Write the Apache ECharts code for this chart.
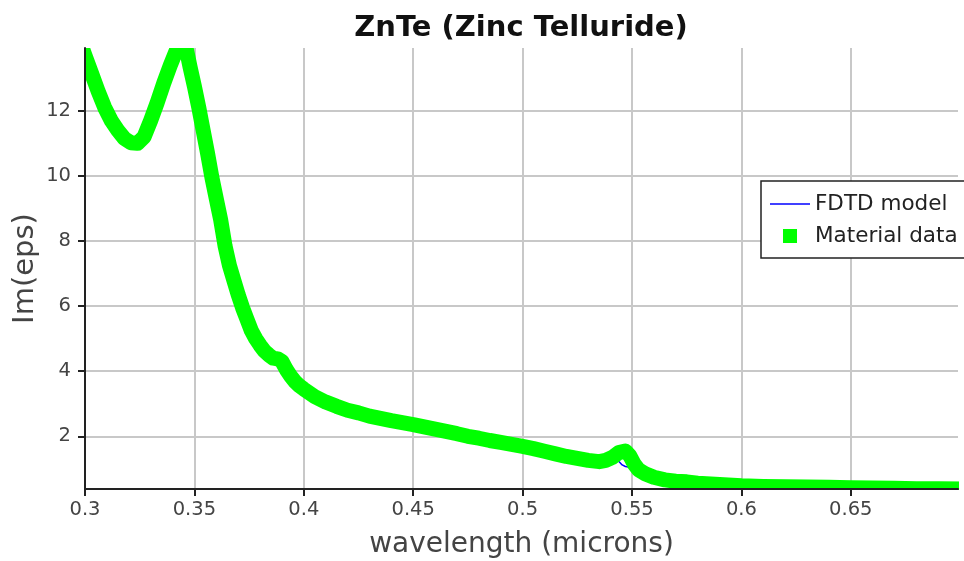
<!DOCTYPE html>
<html>
<head>
<meta charset="utf-8">
<script src="https://cdn.jsdelivr.net/npm/echarts@6/dist/echarts.min.js"></script>
<style>
html,body{margin:0;padding:0;background:#fff;}
#chart{width:964px;height:561px;}
</style>
</head>
<body>
<div id="chart"></div>
<script>
// Material data (wavelength in microns, Im(eps))
var materialLambda = [0.300,0.303,0.306,0.309,0.312,0.315,0.318,0.321,0.324,0.327,0.330,0.333,0.336,0.339,0.342,0.344,0.346,0.348,0.350,0.352,0.354,0.356,0.358,0.360,0.362,0.364,0.366,0.368,0.370,0.372,0.374,0.376,0.378,0.380,0.382,0.384,0.386,0.388,0.390,0.392,0.394,0.396,0.398,0.400,0.405,0.410,0.415,0.420,0.425,0.430,0.435,0.440,0.445,0.450,0.455,0.460,0.465,0.470,0.475,0.480,0.485,0.490,0.495,0.500,0.505,0.510,0.515,0.520,0.525,0.530,0.535,0.538,0.541,0.544,0.547,0.549,0.551,0.553,0.556,0.560,0.565,0.570,0.575,0.580,0.590,0.600,0.610,0.620,0.630,0.640,0.650,0.660,0.670,0.680,0.690,0.699];
var materialEps = [13.70,13.15,12.60,12.10,11.70,11.40,11.15,11.02,11.00,11.20,11.70,12.25,12.85,13.40,13.90,14.15,14.00,13.35,12.75,12.10,11.40,10.70,9.95,9.30,8.65,7.85,7.25,6.80,6.35,5.95,5.60,5.25,5.00,4.80,4.62,4.50,4.40,4.38,4.30,4.05,3.85,3.68,3.55,3.45,3.22,3.05,2.92,2.80,2.72,2.62,2.55,2.48,2.42,2.36,2.29,2.22,2.15,2.08,2.00,1.94,1.87,1.81,1.75,1.69,1.62,1.54,1.46,1.38,1.32,1.26,1.22,1.26,1.35,1.50,1.55,1.40,1.15,0.97,0.85,0.74,0.66,0.62,0.60,0.56,0.52,0.48,0.46,0.45,0.44,0.43,0.42,0.41,0.40,0.39,0.39,0.38];

// FDTD model fit
var modelLambda = [0.300,0.306,0.312,0.318,0.324,0.330,0.336,0.342,0.344,0.346,0.350,0.354,0.358,0.362,0.366,0.370,0.374,0.378,0.382,0.386,0.390,0.394,0.398,0.405,0.415,0.430,0.450,0.470,0.490,0.510,0.525,0.535,0.540,0.543,0.5455,0.547,0.549,0.551,0.553,0.556,0.560,0.565,0.575,0.590,0.610,0.630,0.650,0.670,0.699];
var modelEps = [13.70,12.60,11.70,11.15,11.00,11.70,12.85,13.90,14.15,14.00,12.75,11.40,9.95,8.65,7.25,6.35,5.60,5.00,4.60,4.35,4.15,3.90,3.58,3.22,2.92,2.62,2.36,2.08,1.81,1.54,1.32,1.22,1.28,1.30,1.12,1.07,1.05,1.00,0.95,0.85,0.74,0.66,0.60,0.52,0.46,0.44,0.42,0.40,0.38];

// Axis settings
var xMin = 0.3, xMax = 0.699, xStep = 0.05;
var yMin = 0.38, yMax = 13.93;

var titleText = 'ZnTe (Zinc Telluride)';
var xName = 'wavelength (microns)';
var yName = 'Im(eps)';
var seriesNames = ['FDTD model', 'Material data'];

function pairs(xs, ys) {
  var out = [];
  for (var i = 0; i < xs.length; i++) out.push([xs[i], ys[i]]);
  return out;
}

var chart = echarts.init(document.getElementById('chart'), null, {renderer: 'canvas'});
var font = 'DejaVu Sans';
var gridStyle = {color: '#c8c8c8', width: 2};
var axisStyle = {color: '#222', width: 2};
var labelStyle = {fontFamily: font, fontSize: 19.5, color: '#444'};

chart.setOption({
  animation: false,
  backgroundColor: '#ffffff',
  title: {
    text: titleText,
    left: 516,
    textAlign: 'center',
    top: 9,
    z: 12,
    textStyle: {fontFamily: font, fontWeight: 'bold', fontSize: 29, color: '#111'}
  },
  legend: {
    orient: 'vertical',
    left: 761,
    top: 181,
    z: 12,
    padding: [12, 40, 11, 9],
    itemGap: 10,
    itemWidth: 40,
    itemHeight: 14,
    backgroundColor: '#ffffff',
    borderColor: '#222',
    borderWidth: 1.5,
    borderRadius: 0,
    textStyle: {fontFamily: font, fontSize: 21.5, color: '#222'},
    data: [
      {name: seriesNames[0], icon: 'path://M0,0H40V1.5H0Z', itemStyle: {color: '#0000ff'}},
      {name: seriesNames[1], icon: 'path://M0,0H10V10H0Z', itemStyle: {color: '#00ff00'}}
    ]
  },
  grid: {left: 85, right: 6, top: 48, bottom: 72, containLabel: false, outerBoundsMode: 'none'},
  graphic: [
    {type: 'rect', z: 5, silent: true, shape: {x: 0, y: 0, width: 964, height: 48}, style: {fill: '#ffffff'}},
    {type: 'rect', z: 5, silent: true, shape: {x: 0, y: 0, width: 84, height: 561}, style: {fill: '#ffffff'}},
    {type: 'rect', z: 5, silent: true, shape: {x: 0, y: 490, width: 964, height: 71}, style: {fill: '#ffffff'}},
    {type: 'rect', z: 5, silent: true, shape: {x: 959, y: 300, width: 5, height: 261}, style: {fill: '#ffffff'}}
  ],
  xAxis: [
    {
      type: 'value', position: 'bottom', min: xMin, max: xMax, interval: xStep, z: 0,
      axisLine: {show: false}, axisTick: {show: false}, axisLabel: {show: false},
      splitLine: {show: true, showMinLine: false, showMaxLine: false, lineStyle: gridStyle}
    },
    {
      type: 'value', position: 'bottom', min: xMin, max: xMax, interval: xStep, z: 10,
      name: xName,
      nameLocation: 'middle',
      nameGap: 42,
      nameMoveOverlap: false,
      nameTextStyle: {fontFamily: font, fontSize: 28, color: '#444'},
      axisLine: {show: true, onZero: false, lineStyle: axisStyle},
      axisTick: {show: true, length: 7, lineStyle: axisStyle},
      axisLabel: Object.assign({margin: 11, showMaxLabel: false}, labelStyle),
      splitLine: {show: false}
    }
  ],
  yAxis: [
    {
      type: 'value', position: 'left', min: yMin, max: yMax, splitNumber: 7, z: 0,
      axisLine: {show: false}, axisTick: {show: false}, axisLabel: {show: false},
      splitLine: {show: true, showMinLine: false, showMaxLine: false, lineStyle: gridStyle}
    },
    {
      type: 'value', position: 'left', min: yMin, max: yMax, splitNumber: 7, z: 10,
      name: yName,
      nameLocation: 'middle',
      nameGap: 45,
      nameMoveOverlap: false,
      nameTextStyle: {fontFamily: font, fontSize: 29, color: '#444'},
      axisLine: {show: true, onZero: false, lineStyle: axisStyle},
      axisTick: {show: true, length: 7, lineStyle: axisStyle},
      axisLabel: Object.assign({margin: 14, showMinLabel: false, showMaxLabel: false}, labelStyle),
      splitLine: {show: false}
    }
  ],
  series: [
    {
      name: seriesNames[0],
      type: 'line',
      xAxisIndex: 0, yAxisIndex: 0,
      data: pairs(modelLambda, modelEps),
      symbol: 'none',
      showSymbol: false,
      clip: true,
      z: 2,
      lineStyle: {color: '#0000ff', width: 1.5},
      itemStyle: {color: '#0000ff'}
    },
    {
      name: seriesNames[1],
      type: 'line',
      xAxisIndex: 0, yAxisIndex: 0,
      data: pairs(materialLambda, materialEps),
      symbol: 'none',
      showSymbol: false,
      clip: true,
      z: 3,
      lineStyle: {color: '#00ff00', width: 15, join: 'round', cap: 'square'},
      itemStyle: {color: '#00ff00'}
    }
  ]
});
</script>
</body>
</html>
